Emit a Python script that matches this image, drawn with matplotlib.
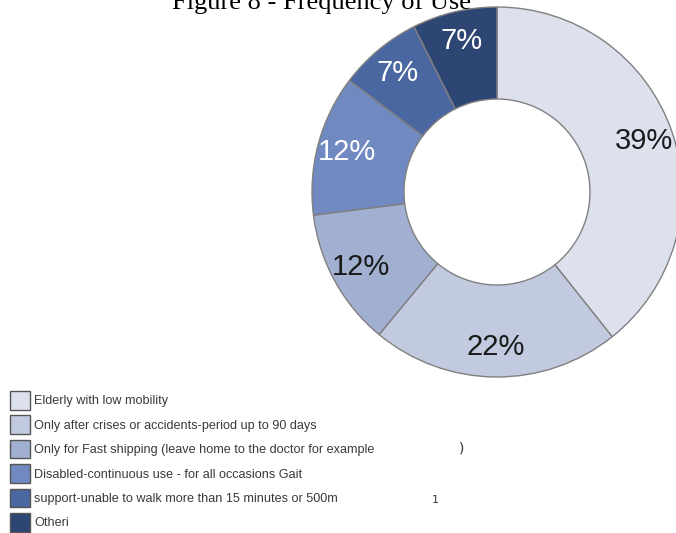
import matplotlib.pyplot as plt

# data (slice sizes)
labels = ["Elderly with low mobility",
          "Only after crises or accidents-period up to 90 days",
          "Only for Fast shipping (leave home to the doctor for example",
          "Disabled-continuous use - for all occasions Gait",
          "support-unable to walk more than 15 minutes or 500m",
          "Otheri"]
values = [39.3, 21.7, 12.0, 12.3, 7.3, 7.4]
pct_labels = ["39%", "22%", "12%", "12%", "7%", "7%"]
colors = ["#dde1ee", "#c2cadf", "#a1afd1", "#7189c1", "#4b67a2", "#2e4674"]
text_colors = ["#1a1a1a", "#1a1a1a", "#1a1a1a", "white", "white", "white"]

W, H = 676, 533
fig = plt.figure(figsize=(W / 100, H / 100), dpi=100)
ax = fig.add_axes([0, 0, 1, 1])

pct_iter = iter(pct_labels)
wedges, texts, autotexts = ax.pie(
    values, colors=colors, startangle=90, counterclock=False,
    center=(497, H - 192), radius=185, autopct=lambda p: next(pct_iter),
    pctdistance=0.84,
    wedgeprops=dict(width=92, edgecolor="#808080", linewidth=1.0),
    textprops=dict(fontsize=21, family="Liberation Sans"))
for t, c in zip(autotexts, text_colors):
    t.set_color(c)

ax.set_xlim(0, W)
ax.set_ylim(0, H)
ax.set_aspect('auto')
ax.axis('off')

# title, partly cut off at the top
ax.text(322, H - 9, "Figure 8 - Frequency of Use", ha='center', va='baseline',
        fontsize=19, family="Liberation Serif", color="black")

leg = ax.legend(wedges, labels, loc='upper left',
                bbox_to_anchor=(10 / W, 1 - 391 / H), frameon=False,
                handlelength=1.6, handleheight=1.9,
                labelspacing=0.45, handletextpad=0.3, borderpad=0,
                borderaxespad=0, prop=dict(family="Liberation Sans", size=9.1))
for t in leg.get_texts():
    t.set_color("#3a3a3a")
for h in leg.legend_handles:
    h.set_edgecolor("#555555")

# stray marks in the original legend
ax.text(459, H - 449, ")", fontsize=10, va='center', color="#333333")
ax.text(432, H - 500, "1", fontsize=8, va='center', color="#333333")

fig.savefig("out.png", dpi=100)
